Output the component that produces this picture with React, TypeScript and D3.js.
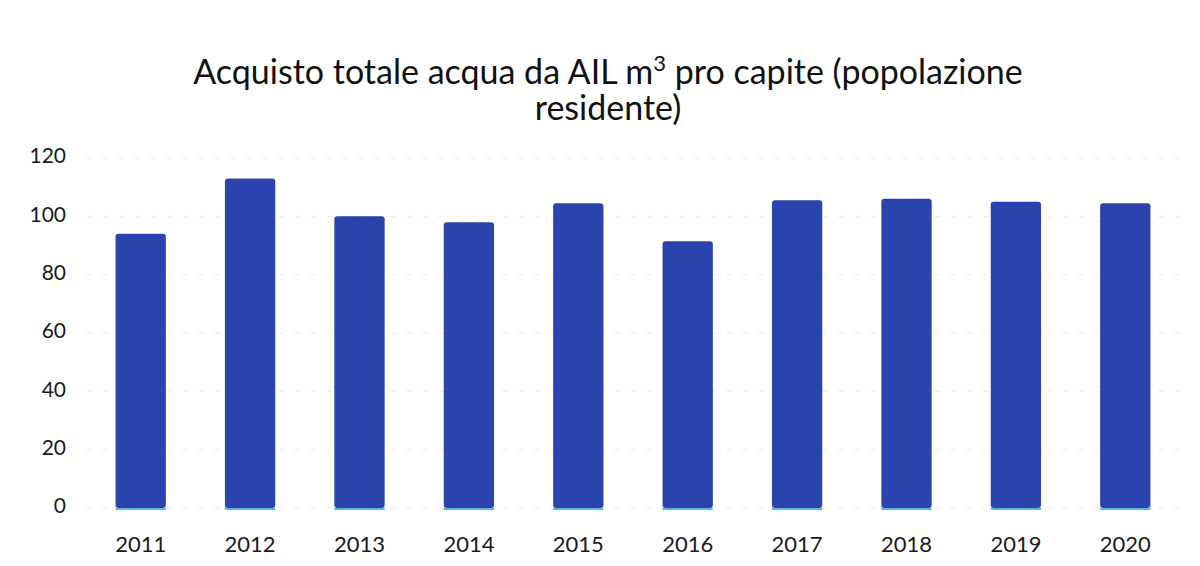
import { useEffect, useRef } from "react";
import * as d3 from "d3";

// values
const years = ["2011", "2012", "2013", "2014", "2015", "2016", "2017", "2018", "2019", "2020"];
const values = [94, 113, 100, 98, 104.5, 91.5, 105.5, 106, 105, 104.5];
const yTicks = [0, 20, 40, 60, 80, 100, 120];

const App = () => {
  const svgRef = useRef<SVGSVGElement | null>(null);

  useEffect(() => {
    const width = 1200;
    const height = 566;
    const margin = { top: 158, right: 20, bottom: 57, left: 86 };
    const font = "Lato, 'Open Sans', sans-serif";

    const svg = d3.select(svgRef.current);
    svg.selectAll("*").remove();
    svg.attr("width", width).attr("height", height);

    svg.append("rect").attr("width", width).attr("height", height).attr("fill", "#ffffff");

    const x = d3
      .scaleBand()
      .domain(years)
      .range([margin.left, width - margin.right])
      .paddingInner(0.54)
      .paddingOuter(0.27);

    const y = d3
      .scaleLinear()
      .domain([0, 120])
      .range([height - margin.bottom - 1, margin.top]);

    // faint gridlines
    svg
      .selectAll(".grid")
      .data(yTicks)
      .enter()
      .append("line")
      .attr("x1", margin.left)
      .attr("x2", width - margin.right)
      .attr("y1", (d) => y(d))
      .attr("y2", (d) => y(d))
      .attr("stroke", "#ececec")
      .attr("stroke-width", 1)
      .attr("stroke-dasharray", "6,10");

    // bars
    svg
      .selectAll(".bar")
      .data(values)
      .enter()
      .append("rect")
      .attr("x", (_, i) => x(years[i])!)
      .attr("y", (d) => y(d))
      .attr("width", x.bandwidth())
      .attr("height", (d) => y(0) - y(d))
      .attr("rx", 3)
      .attr("fill", "#2a43ad");

    // light blue baseline under each bar
    svg
      .selectAll(".base")
      .data(years)
      .enter()
      .append("line")
      .attr("x1", (d) => x(d)!)
      .attr("x2", (d) => x(d)! + x.bandwidth())
      .attr("y1", y(0) + 1)
      .attr("y2", y(0) + 1)
      .attr("stroke", "#58b6e6")
      .attr("stroke-width", 2);

    // y labels
    svg
      .selectAll(".ylab")
      .data(yTicks)
      .enter()
      .append("text")
      .attr("x", 66)
      .attr("y", (d) => y(d))
      .attr("text-anchor", "end")
      .attr("dominant-baseline", "middle")
      .attr("fill", "#1a1a1a")
      .style("font-family", font)
      .style("font-size", "21px")
      .text((d) => d);

    // x labels
    svg
      .selectAll(".xlab")
      .data(years)
      .enter()
      .append("text")
      .attr("x", (d) => x(d)! + x.bandwidth() / 2)
      .attr("y", 546)
      .attr("text-anchor", "middle")
      .attr("dominant-baseline", "middle")
      .attr("fill", "#1a1a1a")
      .style("font-family", font)
      .style("font-size", "22px")
      .text((d) => d);

    // title
    const title = svg
      .append("text")
      .attr("x", 608)
      .attr("y", 84)
      .attr("text-anchor", "middle")
      .attr("fill", "#111")
      .style("font-family", font)
      .style("font-size", "34px");
    title.append("tspan").text("Acquisto totale acqua da AIL m");
    title.append("tspan").attr("dy", -13).style("font-size", "22px").text("3");
    title.append("tspan").attr("dy", 13).text(" pro capite (popolazione");

    svg
      .append("text")
      .attr("x", 608)
      .attr("y", 120)
      .attr("text-anchor", "middle")
      .attr("fill", "#111")
      .style("font-family", font)
      .style("font-size", "34px")
      .text("residente)");
  }, []);

  return (
    <div style={{ position: "absolute", left: 0, top: 0 }}>
      <svg ref={svgRef}></svg>
    </div>
  );
};

export default App;
